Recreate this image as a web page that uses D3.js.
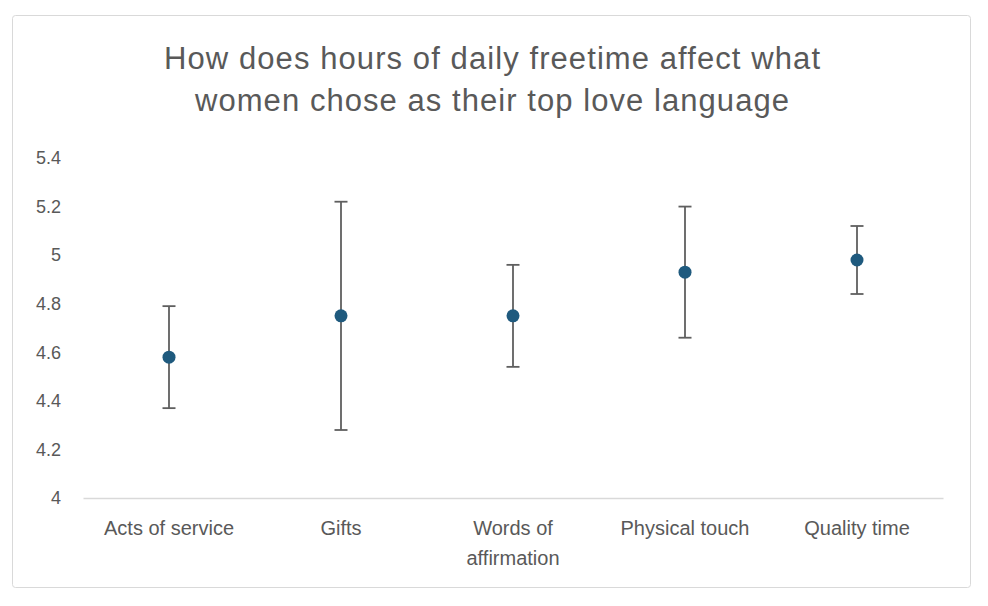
<!DOCTYPE html>
<html><head><meta charset="utf-8">
<script src="https://cdn.jsdelivr.net/npm/d3@7"></script>
<style>
html,body{margin:0;padding:0;background:#fff;}
svg{display:block;}
text{font-family:"Liberation Sans",Arial,sans-serif;}
</style></head>
<body><svg id="chart" width="988" height="606"></svg>
<script>
const titleLines = ["How does hours of daily freetime affect what", "women chose as their top love language"];
const categories = ["Acts of service", "Gifts", "Words of affirmation", "Physical touch", "Quality time"];
const means = [4.58, 4.75, 4.75, 4.93, 4.98];
const errPlus = [0.21, 0.47, 0.21, 0.27, 0.14];
const errMinus = [0.21, 0.47, 0.21, 0.27, 0.14];
const yTicks = [4, 4.2, 4.4, 4.6, 4.8, 5, 5.2, 5.4];

const svg = d3.select("#chart");
svg.append("rect").attr("x", 12.5).attr("y", 15.5).attr("width", 958).attr("height", 572)
  .attr("rx", 3).attr("fill", "#fff").attr("stroke", "#d9d9d9").attr("stroke-width", 1);

const titleLens = [656, 594];
const title = svg.append("text").attr("text-anchor", "middle").attr("fill", "#595959")
  .attr("font-size", 31);
titleLines.forEach((l, i) => title.append("tspan").attr("x", 492).attr("y", 69 + i * 42)
  .attr("textLength", titleLens[i]).attr("lengthAdjust", "spacing").text(l));

const x = d3.scaleBand().domain(categories).range([83, 943]);
const y = d3.scaleLinear().domain([4, 5.4]).range([498, 158]);

const yAxis = svg.append("g").attr("transform", "translate(83,0)")
  .call(d3.axisLeft(y).tickValues(yTicks).tickSize(0).tickPadding(22).tickFormat(d3.format("~g")));
yAxis.select(".domain").remove();
yAxis.selectAll("text").attr("font-size", 18).attr("fill", "#595959");

const xAxis = svg.append("g").attr("transform", "translate(0,498)")
  .call(d3.axisBottom(x).tickSize(0).tickPadding(0));
xAxis.select(".domain").attr("stroke", "#d9d9d9").attr("stroke-width", 1.3);
xAxis.selectAll(".tick text").each(function(d) {
  const t = d3.select(this);
  t.text(null).attr("font-size", 20).attr("fill", "#595959").attr("y", 0).attr("dy", null);
  const lines = d === "Words of affirmation" ? ["Words of", "affirmation"] : [d];
  lines.forEach((l, i) => t.append("tspan").attr("x", 0).attr("y", 37 + i * 30).text(l));
});

const data = categories.map((c, i) => ({c, m: means[i], hi: means[i] + errPlus[i], lo: means[i] - errMinus[i]}));
const g = svg.append("g");
const cx = d => x(d.c) + x.bandwidth() / 2;
g.selectAll("line.eb").data(data).join("line").attr("class", "eb")
  .attr("x1", cx).attr("x2", cx).attr("y1", d => y(d.hi)).attr("y2", d => y(d.lo))
  .attr("stroke", "#5f5f5f").attr("stroke-width", 1.8);
["hi", "lo"].forEach(k => {
  g.selectAll("line.cap" + k).data(data).join("line").attr("class", "cap" + k)
    .attr("x1", d => cx(d) - 6.5).attr("x2", d => cx(d) + 6.5)
    .attr("y1", d => y(d[k])).attr("y2", d => y(d[k]))
    .attr("stroke", "#5f5f5f").attr("stroke-width", 1.8);
});
g.selectAll("circle").data(data).join("circle")
  .attr("cx", cx).attr("cy", d => y(d.m)).attr("r", 6.5).attr("fill", "#1f5a7e");
</script></body></html>
